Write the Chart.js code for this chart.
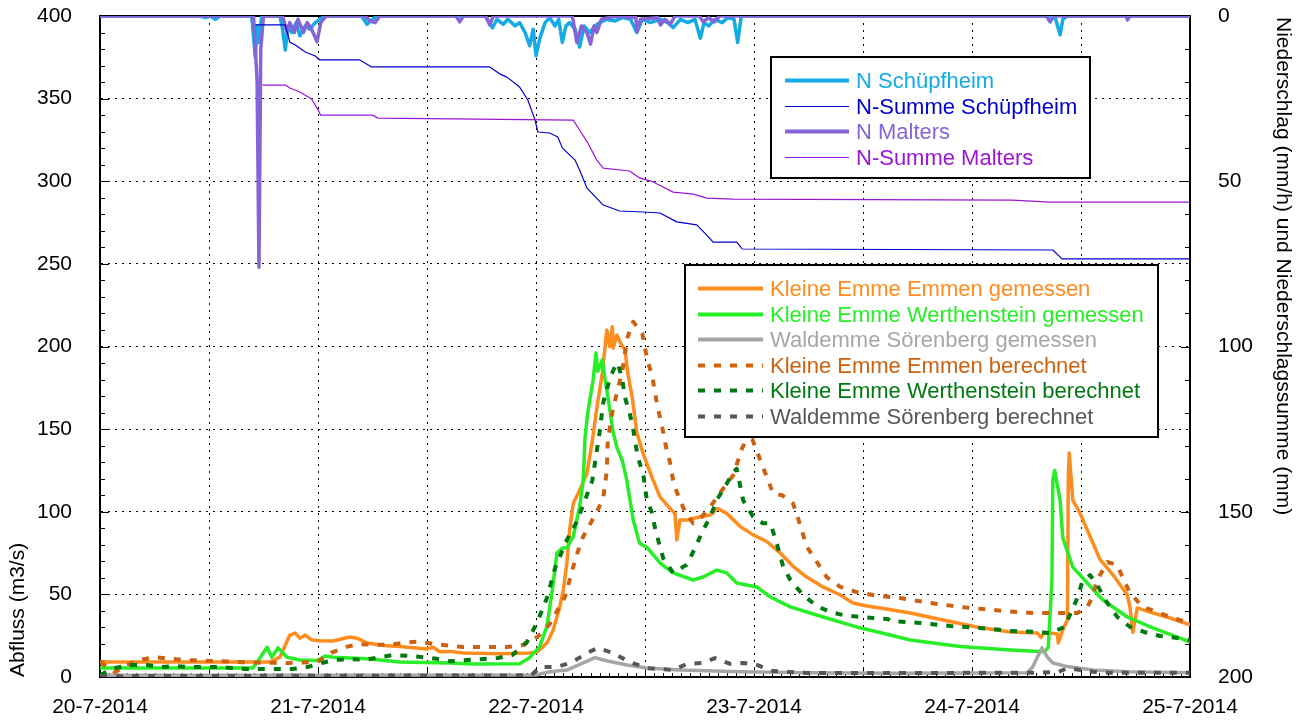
<!DOCTYPE html>
<html><head><meta charset="utf-8">
<script src="https://cdn.jsdelivr.net/npm/chart.js@4.4.1/dist/chart.umd.min.js"></script>
<style>html,body{margin:0;padding:0;background:#fff}#wrap{width:1305px;height:724px;position:relative}</style>
</head><body><div id="wrap"><canvas id="c"></canvas></div>
<script>
// Time axis: hours since 20-7-2014 00:00
const dayLabels = ['20-7-2014','21-7-2014','22-7-2014','23-7-2014','24-7-2014','25-7-2014'];
const leftTicksStep = 50;   // Abfluss (m3/s)
const rightTicksStep = 50;  // Niederschlag (mm/h) / Summe (mm)

// Discharge series [hour, m3/s]
const emmenGemessen = [[0,9.1],[18.7,9.1],[19.8,12],[20.9,25.4],[21.5,26.6],[22.0,23.5],[22.6,25.4],[23.3,22.4],[24.2,22],[25.65,21.8],[27.5,24.2],[28.3,23.5],[29.4,20.6],[31.2,19],[33.0,18.4],[36.0,17],[36.7,18],[37.4,15.3],[38.5,15.5],[40,14.5],[44,14],[47.3,14.5],[48.1,15],[49.2,20.6],[49.9,28.5],[50.6,42],[51.0,52.6],[51.4,69],[51.7,89],[52.1,105],[52.8,113],[53.6,123],[54.2,143],[54.7,163],[55.3,184],[55.8,210],[56.1,200],[56.4,212],[56.5,199],[56.9,207],[57.5,200],[57.8,198],[58.1,184],[58.6,169],[59.1,148],[59.8,135],[60.9,119],[61.65,109],[62.75,102],[63.3,99],[63.5,83],[63.85,95],[64.6,95],[66.1,97],[67.2,98],[68.0,102],[69.0,99],[70.5,91],[71.9,86],[73.4,82],[74.9,75],[76.3,67],[77.8,60.5],[79.6,54.5],[81.5,49.6],[82.9,44.8],[84.4,43],[85.9,41.8],[89.2,38.7],[92.8,34.5],[96.5,30.3],[100.2,27.2],[103.2,26.6],[103.6,24],[104,27],[105.4,26],[105.5,20.6],[106.0,28.5],[106.5,34.5],[106.6,119],[106.7,135.6],[107.1,107],[107.9,99],[109.0,85],[110.1,71],[111.5,62],[113.1,49.6],[113.4,42],[113.7,27],[114.2,41.8],[115.6,39.3],[117.8,35.7],[120,31.5]];
const werthGemessen = [[0,5.4],[16.8,5.4],[17.3,9],[18.4,18],[18.9,12],[19.6,17.6],[20.6,12],[22.0,10.3],[23.9,10],[24.8,12.7],[25.65,12],[27.5,11.5],[29.4,11],[33.0,9.1],[38.5,8.5],[41.1,7.9],[46.2,8],[47.3,11.7],[48.4,18.4],[49.2,30.5],[49.8,52.6],[50.3,75],[50.9,78],[51.4,78],[52.1,85],[52.8,103],[53.2,119],[53.4,145],[53.7,160],[54.3,180],[54.6,196],[54.8,185],[55.3,192],[55.6,180],[55.9,170],[56.5,148],[56.9,139],[57.5,131],[58.0,119],[58.7,95],[59.4,81],[60.3,78],[61.65,69],[63.1,63],[65.3,58.7],[66.4,60.5],[67.9,64.7],[69.0,63],[70.1,56.9],[72.3,54.5],[73.8,48.4],[76.0,42.4],[79.6,36.3],[83.3,30.3],[87.0,25.4],[89.2,22.4],[94.7,18.4],[100.2,16.3],[104.0,15.3],[104.4,18],[104.8,58.7],[104.9,119],[105.1,125],[105.7,107],[106.0,84],[107.1,66.5],[108.7,56.9],[110.4,46.6],[113.1,36.3],[115.9,29.7],[120,21.2]];
const soerGemessen = [[0,1],[48,1.2],[49.5,3.2],[51.4,4.2],[53.2,8.5],[54.5,11.7],[55.4,10.3],[58.0,7.3],[60.2,5.4],[63.85,4.2],[70.5,3.2],[77.8,2.6],[87.0,2.2],[102.1,2.6],[102.7,6.3],[103.7,17.6],[104.3,12],[104.9,8.5],[106.5,6.3],[109.3,4.2],[113.1,3.2],[120,2.6]];
const emmenBerechnet = [[0,9],[1.65,3],[2.97,7.3],[4.4,10.3],[6.06,12],[7.7,11],[9.36,10.3],[11.0,10],[14.3,9.3],[17.4,8.7],[20.7,8.5],[23.9,9],[25.5,14.7],[27.2,18.4],[28.6,19.9],[30.3,19.5],[31.9,19.6],[33.6,20.8],[35.2,21.4],[36.7,20],[38.3,19],[40.0,18.1],[44.8,18.1],[46.6,19.4],[48.2,24.4],[49.5,32],[51.2,48.6],[52.1,66.7],[52.6,75.8],[53.2,85],[54.7,100],[55.4,108],[55.8,125],[55.9,143],[56.4,160],[56.9,172],[57.5,185],[57.8,196],[58.1,206],[58.7,215],[59.7,208],[60.0,199],[60.3,191],[60.8,182],[61.1,172],[61.4,163],[61.9,151],[62.4,137],[62.75,130],[63.1,119],[63.5,112],[64.4,100],[65.3,93],[66.1,96],[67.2,103],[68.6,114],[69.7,122],[70.7,138.6],[71.0,141.6],[71.8,144],[72.3,137],[72.9,128],[73.5,120],[74.1,111],[75.1,110],[76.3,105],[76.8,97],[77.8,79],[80.0,60.5],[81.5,54.5],[83.3,51.4],[85.1,49.6],[88.1,47.8],[91.4,44.8],[94.7,42.4],[99.4,40],[102.7,38.7],[106.0,38.7],[107.6,38.7],[108.7,42.4],[109.2,47.8],[109.8,58.7],[110.9,69.6],[112.0,67.8],[112.6,60],[113.4,50.8],[114.8,42.4],[116.7,38.7],[118.1,35.7],[120,32.7]];
const werthBerechnet = [[0,1.2],[1.65,5.4],[3.3,7.3],[5.17,7.3],[6.6,6],[8.26,6.7],[9.9,6],[11.34,6],[13.0,6],[14.6,5.4],[16.3,4.8],[19.5,4.8],[21.1,4.8],[22.8,6],[24.4,8.5],[25.9,10.3],[27.5,10.9],[29.2,10.3],[30.8,12],[32.3,13.3],[34.1,12.7],[35.6,12],[37.1,11],[38.5,9.5],[40.4,10.3],[42.2,10.9],[43.8,11.5],[45.4,13.3],[47.0,21.2],[48.1,32.7],[49.2,47.8],[50.1,66],[51.4,83],[52.5,94],[53.4,107],[54.2,119],[55.0,148],[55.4,166],[56.1,180],[56.7,188],[57.0,190],[57.5,180],[57.8,169],[58.3,160],[58.7,150],[59.2,133],[59.8,123],[60.2,107],[60.8,99],[61.1,90],[62.0,72],[63.1,63],[64.6,68],[65.5,78],[66.4,89],[67.2,97],[67.9,107],[69.0,117],[69.7,124],[70.1,126],[70.8,107],[71.9,97],[73.0,93],[73.8,93],[74.5,81],[75.2,67],[76.0,58.7],[77.4,49.6],[78.9,43],[80.4,39.3],[81.8,37.5],[83.7,36.3],[85.1,35.7],[86.75,35.1],[87.0,33.9],[90.3,32.7],[93.6,30.9],[96.9,29.7],[100.2,27.9],[103.2,27.2],[104.6,26.6],[106.2,30.3],[107.6,47.8],[108.1,56.9],[109.0,61.7],[109.9,54.5],[110.9,44.8],[112.0,36.3],[113.4,30.3],[115.3,26.6],[116.7,24.8],[118.6,23.6],[120,22.4]];
const soerBerechnet = [[0,0.5],[47.5,1],[48.4,6],[50.3,6],[52.0,9],[53.6,14.5],[54.8,17.6],[56.5,14.5],[58.3,9],[60.2,5.4],[63.1,4.2],[64.6,7.9],[66.4,8.5],[67.7,11.5],[69.4,7.9],[70.8,8.5],[72.3,7.3],[74.1,3.6],[77.8,2.4],[87.0,2.4],[102.7,2.6],[105.5,3],[106.5,5.4],[107.9,4.2],[109.3,3.2],[111,2.6],[120,2.6]];

// Precipitation [hour, mm/h] and cumulative sums [hour, mm]
const nSchuepfheim = [[0,0],[11.0,0],[11.6,0.5],[12.1,0],[12.7,1],[13.2,0],[16.7,0],[17.1,12.4],[17.3,3],[17.5,8],[17.8,0],[19.8,0],[20.1,4],[20.4,10.3],[20.7,3],[21.1,5],[21.6,2],[22.0,6],[22.6,3],[23.1,4],[23.7,2],[24.2,1],[24.8,0],[28.8,0],[29.4,2.5],[30.0,1],[30.5,0],[42.4,0],[43.2,3.6],[43.7,1],[44.4,2.5],[44.9,1],[45.7,3],[46.2,2],[46.8,5],[47.3,9],[47.7,4],[48.0,12],[48.4,7],[49.0,2],[49.5,0.5],[50.1,3],[50.5,1],[50.9,8],[51.3,3],[51.7,2],[52.3,4],[52.8,9.4],[53.3,3],[53.9,5],[54.5,3],[55.0,2],[55.8,1],[56.7,1.5],[57.5,0.5],[58.4,1],[59.1,5],[59.7,1],[60.6,2],[61.7,1],[62.5,2],[63.1,3.5],[63.9,1],[64.7,2],[65.5,1],[66.1,6.7],[66.5,2],[67.0,3],[67.7,1],[68.5,2],[69.1,0.5],[69.8,1],[70.2,8],[70.6,0],[105.1,0],[105.7,5.7],[106.0,1],[106.5,0],[120,0]];
const nSummeSchuepfheim = [[17.1,2.7],[20.4,2.7],[20.9,7.9],[21.5,8.8],[22.6,10.9],[23.7,12.1],[24.2,13.3],[28.6,13.3],[29.9,15.4],[42.9,15.4],[44.0,17.5],[44.8,18.5],[46.2,21.5],[47.1,25.4],[47.9,31.5],[48.2,35.1],[49.5,35.4],[50.4,36.6],[50.9,39.9],[52.3,43.6],[52.8,46.6],[53.6,52.0],[55.4,57.2],[57.2,59.0],[59.8,59.3],[61.65,59.6],[63.5,62.3],[65.7,63.2],[66.8,66.3],[67.5,68.4],[70.1,68.4],[70.7,70.5],[104.9,70.8],[105.9,73.5],[120,73.5]];
const nMalters = [[0,0],[16.9,0],[17.3,20],[17.5,76],[17.7,10],[18.0,0],[20.1,0],[20.6,5],[20.9,2],[21.4,5],[21.8,1],[22.4,5],[22.8,2],[23.3,4],[23.9,7.8],[24.3,2],[24.9,0],[29.2,0],[29.7,1.5],[30.3,2],[30.8,0],[39.2,0],[39.6,1.8],[40.0,0],[42.5,0],[42.9,2.7],[43.3,0],[52.0,0],[52.5,8],[53.0,3],[53.6,5],[54.0,8.5],[54.4,3],[54.7,5],[55.2,1],[56,0.5],[57,0],[59,0.5],[59.1,4.8],[59.5,1],[61.4,0.5],[61.7,2.7],[62.2,1],[62.8,2.5],[63.3,0],[66.0,0],[66.4,1.8],[67,0.5],[67.6,1.8],[68.2,0],[104.2,0],[104.6,1.8],[105.0,0],[113.0,0],[113.1,1.2],[113.4,0],[120,0]];
const nSummeMalters = [[17.9,20.9],[20.4,20.9],[20.9,21.8],[22.0,23.0],[23.3,25.1],[24.0,28.4],[24.3,30.0],[30.0,30.0],[30.6,30.9],[52.1,31.5],[52.8,34.5],[53.7,38.4],[54.7,43.6],[55.4,46.0],[58.3,46.9],[59.4,49.0],[60.9,50.2],[63.1,53.3],[65.3,53.9],[66.8,55.1],[69.7,55.4],[100.4,55.7],[104.6,56.3],[120,56.3]];

const pts = a => a.map(p => ({x: p[0], y: p[1]}));
const FONT = "'Liberation Sans', Arial, Helvetica, sans-serif";
Chart.defaults.font.family = FONT;
Chart.defaults.font.size = 21;
Chart.defaults.color = '#000';

const DASH = [7, 9];
function ds(label, data, color, width, axis, order, dash) {
  return {label, data: pts(data), borderColor: color, backgroundColor: color, borderWidth: width,
    yAxisID: axis, order, pointRadius: 0, tension: 0, fill: false, borderDash: dash || [],
    borderCapStyle: 'butt', borderJoinStyle: 'round'};
}
const datasets = [
  ds('N Schüpfheim', nSchuepfheim, '#14AAE6', 3.5, 'y2', 9),
  ds('N-Summe Schüpfheim', nSummeSchuepfheim, '#0000D0', 1.2, 'y2', 7),
  ds('N Malters', nMalters, '#8465D8', 3.5, 'y2', 8),
  ds('N-Summe Malters', nSummeMalters, '#9A16D6', 1.2, 'y2', 6),
  ds('Kleine Emme Emmen gemessen', emmenGemessen, '#FF8C1E', 3.5, 'y', 5),
  ds('Kleine Emme Werthenstein gemessen', werthGemessen, '#28EE28', 3.5, 'y', 4),
  ds('Waldemme Sörenberg gemessen', soerGemessen, '#A6A6A6', 3.5, 'y', 3),
  ds('Kleine Emme Emmen berechnet', emmenBerechnet, '#CC6210', 4, 'y', 2, DASH),
  ds('Kleine Emme Werthenstein berechnet', werthBerechnet, '#007A10', 4, 'y', 1, DASH),
  ds('Waldemme Sörenberg berechnet', soerBerechnet, '#575757', 4, 'y', 0, DASH)
];

const extras = {
  id: 'extras',
  beforeDatasetsDraw(chart) {
    const {ctx, chartArea: a, scales: {x, y, y2}} = chart;
    ctx.save();
    ctx.strokeStyle = '#000'; ctx.lineWidth = 1;
    ctx.beginPath();
    for (let v = 0; v <= 400; v += 10) {
      const py = Math.round(y.getPixelForValue(v)) + 0.5;
      const len = v % 50 === 0 ? 9 : 5;
      ctx.moveTo(a.left, py); ctx.lineTo(a.left + len, py);
    }
    for (let v = 0; v <= 200; v += 10) {
      const py = Math.round(y2.getPixelForValue(v)) + 0.5;
      const len = v % 50 === 0 ? 9 : 5;
      ctx.moveTo(a.right, py); ctx.lineTo(a.right - len, py);
    }
    for (let h = 0; h <= 120; h += 1) {
      const px = Math.round(x.getPixelForValue(h)) + 0.5;
      const len = h % 12 === 0 ? 9 : 4;
      ctx.moveTo(px, a.bottom); ctx.lineTo(px, a.bottom - len);
    }
    ctx.stroke();
    ctx.lineWidth = 2;
    ctx.beginPath(); ctx.moveTo(a.left - 1, a.top); ctx.lineTo(a.right + 1, a.top); ctx.stroke();
    ctx.restore();
  },
  afterDraw(chart) {
    const {ctx} = chart;
    const dsets = chart.data.datasets;
    function legend(box, idx, lx1, lx2, tx, y0, dy) {
      ctx.save();
      ctx.fillStyle = '#fff';
      ctx.fillRect(box[0], box[1], box[2], box[3]);
      ctx.strokeStyle = '#000'; ctx.lineWidth = 2;
      ctx.strokeRect(box[0], box[1], box[2], box[3]);
      ctx.font = '22px ' + FONT;
      ctx.textBaseline = 'middle'; ctx.textAlign = 'left';
      idx.forEach((i, k) => {
        const d = dsets[i];
        const yy = Math.round(y0 + k * dy) + 0.5;
        ctx.strokeStyle = d.borderColor;
        ctx.lineWidth = d.borderWidth === 1.2 ? 1.2 : 4;
        ctx.lineCap = 'butt';
        ctx.setLineDash(d.borderDash || []);
        ctx.beginPath(); ctx.moveTo(lx1, yy); ctx.lineTo(lx2, yy); ctx.stroke();
        ctx.setLineDash([]);
        ctx.fillStyle = d.borderColor;
        ctx.fillText(d.label, tx, yy + 1);
      });
      ctx.restore();
    }
    legend([771, 57, 319, 121], [0, 1, 2, 3], 785, 849, 856, 80, 25.7);
    legend([685, 265, 473, 172], [4, 5, 6, 7, 8, 9], 698, 763, 770, 288, 25.6);
    // right axis title
    ctx.save();
    ctx.font = '21px ' + FONT;
    ctx.fillStyle = '#000';
    ctx.translate(1283, 17);
    ctx.rotate(Math.PI / 2);
    ctx.textAlign = 'left'; ctx.textBaseline = 'middle';
    ctx.fillText('Niederschlag (mm/h) und Niederschlagssumme (mm)', 0, 0);
    ctx.restore();
  }
};

const noPad = s => { s.paddingTop = 0; s.paddingBottom = 0; s.paddingLeft = 0; s.paddingRight = 0; };

new Chart(document.getElementById('c'), {
  type: 'line',
  data: {datasets},
  options: {
    responsive: true, maintainAspectRatio: false, animation: false,
    layout: {padding: {top: 16, left: 0, right: 0, bottom: 0}},
    plugins: {legend: {display: false}, tooltip: {enabled: false}},
    scales: {
      x: {
        type: 'linear', min: 0, max: 120,
        afterFit: s => { s.height = 47; noPad(s); },
        ticks: {stepSize: 12, autoSkip: false, maxRotation: 0, padding: 18,
          callback: v => (v % 24 === 0 ? dayLabels[v / 24] : '')},
        grid: {color: '#000', lineWidth: 1, drawTicks: false},
        border: {color: '#000', width: 2, dash: [2, 5]}
      },
      y: {
        position: 'left', min: 0, max: 400,
        afterFit: s => { s.width = 100; noPad(s); },
        ticks: {stepSize: leftTicksStep, padding: 28},
        grid: {color: '#000', lineWidth: 1, drawTicks: false},
        border: {color: '#000', width: 2, dash: [2, 5]},
        title: {display: true, text: 'Abfluss (m3/s)', align: 'start', padding: {top: 6, bottom: 0}, font: {size: 21}}
      },
      y2: {
        position: 'right', min: 0, max: 200, reverse: true,
        afterFit: s => { s.width = 115; noPad(s); },
        ticks: {stepSize: rightTicksStep, padding: 28},
        grid: {drawOnChartArea: false, drawTicks: false},
        border: {color: '#000', width: 2}
      }
    }
  },
  plugins: [extras]
});
</script>
</body></html>
